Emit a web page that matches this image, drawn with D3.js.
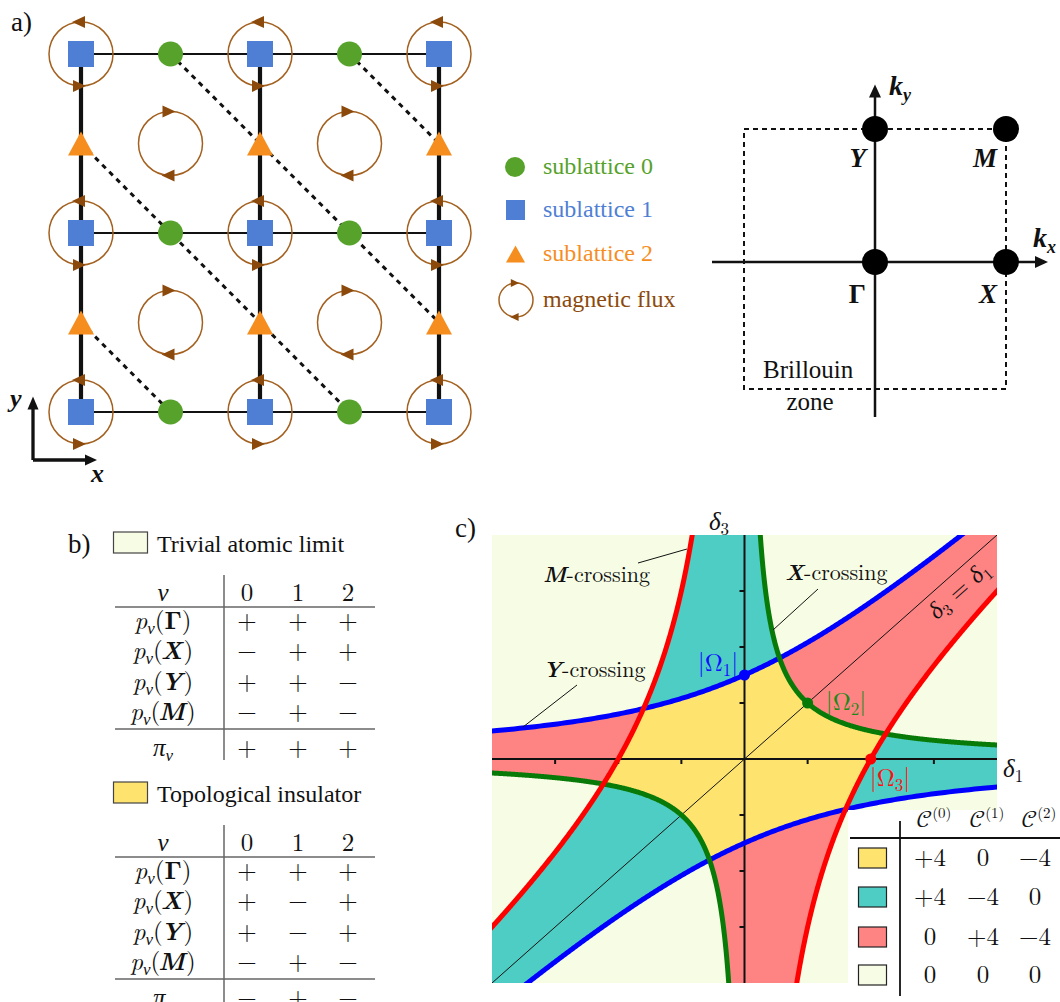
<!DOCTYPE html>
<html><head><meta charset="utf-8">
<script src="https://cdn.jsdelivr.net/npm/d3@7"></script>
<style>body{margin:0;background:#fff} svg{display:block}</style>
</head><body>
<svg id="fig" width="1060" height="1002"></svg>
<script>
// ================= DATA =================
// panel a: lattice sites (unit-cell coordinates, y up)
const squareSites   = [[0,0],[1,0],[2,0],[0,1],[1,1],[2,1],[0,2],[1,2],[2,2]];      // sublattice 1
const circleSites   = [[0.5,0],[1.5,0],[0.5,1],[1.5,1],[0.5,2],[1.5,2]];            // sublattice 0
const triangleSites = [[0,0.5],[1,0.5],[2,0.5],[0,1.5],[1,1.5],[2,1.5]];            // sublattice 2
const horizontalBonds = [[[0,0],[2,0]],[[0,1],[2,1]],[[0,2],[2,2]]];
const verticalBonds   = [[[0,0],[0,2]],[[1,0],[1,2]],[[2,0],[2,2]]];
const dashedBonds     = [[[0.5,2],[2,0.5]],[[1.5,2],[2,1.5]],[[0,1.5],[1.5,0]],[[0,0.5],[0.5,0]]];
const plaquetteFlux   = [[0.5,0.5],[1.5,0.5],[0.5,1.5],[1.5,1.5]];
const legendLabels    = ["sublattice 0","sublattice 1","sublattice 2","magnetic flux"];

// panel a: Brillouin zone
const bzPoints = [["Γ",0,0],["X",1,0],["Y",0,1],["M",1,1]];
const bzBox    = [[-1,-1],[1,1]];

// panel b: parity tables
const symPoints     = ["Γ","X","Y","M"];
const bandIndex     = ["0","1","2"];
const trivialParity = [["+","+","+"],["−","+","+"],["+","+","−"],["−","+","−"]];
const trivialPi     = ["+","+","+"];
const topoParity    = [["+","+","+"],["+","−","+"],["+","−","+"],["−","+","−"]];
const topoPi        = ["−","+","−"];

// panel c: phase diagram
const omegaAbs   = [1.5, 1, 2];             // |Ω1|, |Ω2|, |Ω3|
const deltaDomain = [-4, 4];
const deltaTicks  = [-3,-2,-1,1,2,3];
const chernHeaders = ["(0)","(1)","(2)"];
const chernValues  = [["+4","0","−4"],["+4","−4","0"],["0","+4","−4"],["0","0","0"]];
const phaseColors  = ["#fee46f","#4ecdc4","#fe8383","#f7fde5"];

// ================= STYLE =================
const cGreen="#56a22b", cBlue="#4f7fd4", cOrange="#f68e1f", cBrown="#a3601f", cBrownDark="#8b4a0c";
const FT = "'Liberation Serif'";     // Times-like
const FM = "'Latin Modern Roman'";   // Computer-Modern-like

const svg = d3.select("#fig");

function mathText(g, x, y, parts, opts={}) {
  const t = g.append("text").attr("x", x).attr("y", y)
    .style("font-family", opts.font || FM)
    .attr("font-size", opts.size || 22)
    .attr("text-anchor", opts.anchor || "start")
    .style("fill", opts.fill || "#111");
  parts.forEach(p => {
    const s = t.append("tspan").text(p.t);
    if (p.f) s.style("font-family", p.f);
    if (p.i) s.attr("font-style","italic");
    if (p.b) s.attr("font-weight","bold");
    if (p.s) s.attr("font-size", p.s);
    if (p.dy) s.attr("dy", p.dy);
    if (p.dx) s.attr("dx", p.dx);
  });
  return t;
}
function plainText(g, x, y, str, size, font, anchor, fill) {
  return g.append("text").attr("x",x).attr("y",y).style("font-family",font)
    .attr("font-size",size).attr("text-anchor",anchor||"start").style("fill",fill||"#111").text(str);
}

// ================= PANEL A =================
const A = svg.append("g");
const ax = d3.scaleLinear().domain([0,2]).range([81,439]);
const ay = d3.scaleLinear().domain([0,2]).range([412,54]);

plainText(A, 11, 31, "a)", 27, FT);

A.selectAll(".vb").data(verticalBonds).join("line")
  .attr("x1",d=>ax(d[0][0])).attr("y1",d=>ay(d[0][1])).attr("x2",d=>ax(d[1][0])).attr("y2",d=>ay(d[1][1]))
  .attr("stroke","#111").attr("stroke-width",4.2);
A.selectAll(".hb").data(horizontalBonds).join("line")
  .attr("x1",d=>ax(d[0][0])).attr("y1",d=>ay(d[0][1])).attr("x2",d=>ax(d[1][0])).attr("y2",d=>ay(d[1][1]))
  .attr("stroke","#111").attr("stroke-width",2);
A.selectAll(".db").data(dashedBonds).join("line")
  .attr("x1",d=>ax(d[0][0])).attr("y1",d=>ay(d[0][1])).attr("x2",d=>ax(d[1][0])).attr("y2",d=>ay(d[1][1]))
  .attr("stroke","#111").attr("stroke-width",3).attr("stroke-dasharray","5,5");

function arrowHead(g, x, y, dir, s=1) {
  const p = d3.path();
  p.moveTo(x + dir*7*s, y); p.lineTo(x - dir*6*s, y - 6*s); p.lineTo(x - dir*6*s, y + 6*s); p.closePath();
  g.append("path").attr("d", p.toString()).attr("fill", cBrownDark);
}
function fluxLoop(g, cx, cy, r, topDir, s=1) {
  g.append("circle").attr("cx",cx).attr("cy",cy).attr("r",r)
    .attr("fill","none").attr("stroke",cBrown).attr("stroke-width",1.5);
  arrowHead(g, cx-2*s, cy - r, topDir, s);
  arrowHead(g, cx-2*s, cy + r, -topDir, s);
}
squareSites.forEach(d => fluxLoop(A, ax(d[0]), ay(d[1]), 32, -1));
plaquetteFlux.forEach(d => fluxLoop(A, ax(d[0]), ay(d[1]), 32, 1));

A.selectAll(".sq").data(squareSites).join("rect")
  .attr("x",d=>ax(d[0])-13).attr("y",d=>ay(d[1])-13).attr("width",26).attr("height",26).attr("fill",cBlue);
A.selectAll(".ci").data(circleSites).join("circle")
  .attr("cx",d=>ax(d[0])).attr("cy",d=>ay(d[1])).attr("r",12.5).attr("fill",cGreen);
function triPath(cx, cy, w, h) {
  const p = d3.path(); p.moveTo(cx, cy-h/2); p.lineTo(cx+w/2, cy+h/2); p.lineTo(cx-w/2, cy+h/2); p.closePath(); return p.toString();
}
A.selectAll(".tr").data(triangleSites).join("path")
  .attr("d",d=>triPath(ax(d[0]), ay(d[1]), 26, 24)).attr("fill",cOrange);

// axes icon
A.append("path").attr("d","M33,460 L33,405 M33,460 L88,460").attr("stroke","#111").attr("stroke-width",3.3).attr("fill","none");
A.append("path").attr("d",triPath(33,403,11,13)).attr("fill","#111");
A.append("path").attr("d","M97,460 L85,454.5 L85,465.5 Z").attr("fill","#111");
mathText(A, 10, 407, [{t:"y",i:1,b:1}], {size:26, font:FT});
mathText(A, 91, 482, [{t:"x",i:1,b:1}], {size:26, font:FT});

// legend
const legY = [167, 210, 254, 300];
const legCol = [cGreen, cBlue, cOrange, cBrownDark];
A.append("circle").attr("cx",515).attr("cy",legY[0]).attr("r",10).attr("fill",cGreen);
A.append("rect").attr("x",506).attr("y",legY[1]-10).attr("width",19).attr("height",20).attr("fill",cBlue);
A.append("path").attr("d",triPath(515.5,legY[2],19,17)).attr("fill",cOrange);
fluxLoop(A, 516, legY[3], 17, 1, 0.65);
legendLabels.forEach((l,i) => plainText(A, 543, legY[i]+7, l, 24, FT, "start", legCol[i]));

// Brillouin zone
const bx = d3.scaleLinear().domain([0,1]).range([875,1006]);
const by = d3.scaleLinear().domain([-1,0,1]).range([389,262,129]);
A.append("rect").attr("x",bx(bzBox[0][0])).attr("y",by(bzBox[1][1]))
  .attr("width",bx(bzBox[1][0])-bx(bzBox[0][0])).attr("height",by(bzBox[0][1])-by(bzBox[1][1]))
  .attr("fill","none").attr("stroke","#111").attr("stroke-width",2).attr("stroke-dasharray","5,4");
A.append("line").attr("x1",712).attr("x2",1038).attr("y1",by(0)).attr("y2",by(0)).attr("stroke","#111").attr("stroke-width",2.5);
A.append("line").attr("x1",bx(0)).attr("x2",bx(0)).attr("y1",417).attr("y2",95).attr("stroke","#111").attr("stroke-width",2.5);
A.append("path").attr("d",`M1048,${by(0)} L1035,${by(0)-6} L1035,${by(0)+6} Z`).attr("fill","#111");
A.append("path").attr("d",triPath(bx(0),91,12,13)).attr("fill","#111");
A.selectAll(".bz").data(bzPoints).join("circle")
  .attr("cx",d=>bx(d[1])).attr("cy",d=>by(d[2])).attr("r",13).attr("fill","#000");
bzPoints.forEach(d => {
  const up = d[2] === 1;
  mathText(A, bx(d[1]) - 9, by(d[2]) + (up ? 38 : 41), [{t:d[0], i: d[0]!=="Γ", b:1}], {size:27, anchor:"end", font:FT});
});
mathText(A, 889, 95, [{t:"k",i:1,b:1},{t:"y",i:1,b:1,s:18,dy:6}], {size:28, font:FT});
mathText(A, 1033, 247, [{t:"k",i:1,b:1},{t:"x",i:1,b:1,s:18,dy:6}], {size:28, font:FT});
plainText(A, 763, 378, "Brillouin", 25, FT);
plainText(A, 810, 410, "zone", 25, FT, "middle");

// ================= PANEL B =================
const B = svg.append("g");
plainText(B, 68, 553, "b)", 27, FT);
const colX = [163, 247, 298, 348];
function parityTable(top, swColor, title, rows, pi) {
  B.append("rect").attr("x",113.5).attr("y",top).attr("width",34).attr("height",21)
    .attr("fill",swColor).attr("stroke","#444").attr("stroke-width",1.2);
  plainText(B, 157, top+20, title, 24, FT);
  const hY = top + 69;
  mathText(B, colX[0], hY, [{t:"ν",i:1}], {size:25, anchor:"middle"});
  bandIndex.forEach((b,i) => plainText(B, colX[i+1], hY, b, 25, FM, "middle"));
  B.append("line").attr("x1",115).attr("x2",375).attr("y1",top+75).attr("y2",top+75).attr("stroke","#666").attr("stroke-width",1.5);
  B.append("line").attr("x1",224).attr("x2",224).attr("y1",top+43).attr("y2",top+228).attr("stroke","#666").attr("stroke-width",1.5);
  symPoints.forEach((s,r) => {
    const yy = top + 97 + r*30.3;
    const ital = s !== "Γ";
    mathText(B, colX[0], yy, [{t:"p",i:1},{t:"ν",i:1,s:17,dy:5},{t:"(",dy:-5},{t:s,b:1,i:ital,dx:ital?-2:0},{t:")",dx:ital?1:0}], {size:25, anchor:"middle"});
    rows[r].forEach((v,i) => plainText(B, colX[i+1], yy, v, 25, FM, "middle"));
  });
  B.append("line").attr("x1",115).attr("x2",375).attr("y1",top+197).attr("y2",top+197).attr("stroke","#666").attr("stroke-width",1.5);
  const pY = top + 224;
  mathText(B, colX[0], pY, [{t:"π",i:1},{t:"ν",i:1,s:17,dy:5}], {size:25, anchor:"middle"});
  pi.forEach((v,i) => plainText(B, colX[i+1], pY, v, 25, FM, "middle"));
}
parityTable(532, phaseColors[3], "Trivial atomic limit", trivialParity, trivialPi);
parityTable(782, phaseColors[0], "Topological insulator", topoParity, topoPi);

// ================= PANEL C =================
const C = svg.append("g");
plainText(C, 455, 537, "c)", 27, FT);
const px0 = 492, px1 = 997, py0 = 535, py1 = 983;
const xS = d3.scaleLinear().domain(deltaDomain).range([px0, px1]);
const yS = d3.scaleLinear().domain(deltaDomain).range([py1, py0]);
const [O1, O2, O3] = omegaAbs;

function phaseOf(d1, d3) {
  const b = d3*d3 - d1*d3 > O1*O1;   // Y-crossing passed
  const g = d1*d3 > O2*O2;           // X-crossing passed
  const r = d1*d1 - d1*d3 > O3*O3;   // M-crossing passed
  const n = b + g + r;
  if (n === 0) return 0;
  if (n >= 2) return 3;
  if (b) return d3 > 0 ? 1 : 2;
  if (g) return d1 < 0 ? 1 : 2;
  return d1 > 0 ? 1 : 2;
}

const defs = svg.append("defs");
defs.append("clipPath").attr("id","plotClip").append("rect")
  .attr("x",px0).attr("y",py0).attr("width",px1-px0).attr("height",py1-py0);
const P = C.append("g").attr("clip-path","url(#plotClip)");
P.append("rect").attr("x",px0).attr("y",py0).attr("width",px1-px0).attr("height",py1-py0).attr("fill",phaseColors[3]);

const nx = 505, ny = 448;
const gx = d3.scaleLinear().domain([0,nx]).range(deltaDomain);
const gy = d3.scaleLinear().domain([0,ny]).range([deltaDomain[1], deltaDomain[0]]);
const phaseGrid = new Array(nx*ny);
for (let j=0;j<ny;j++) for (let i=0;i<nx;i++) phaseGrid[j*nx+i] = phaseOf(gx(i+0.5), gy(j+0.5));
const proj = d3.geoPath(d3.geoTransform({point(x,y){ this.stream.point(xS(gx(x)), yS(gy(y))); }}));
[0,1,2].forEach(k => {
  const ind = phaseGrid.map(v => v===k ? 1 : 0);
  const cont = d3.contours().size([nx,ny]).thresholds([0.5])(ind);
  P.append("path").attr("d", proj(cont[0])).attr("fill", phaseColors[k]).attr("stroke",phaseColors[k]).attr("stroke-width",0.8);
});

// diagonal δ3 = δ1
P.append("line").attr("x1",xS(-4)).attr("y1",yS(-4)).attr("x2",xS(4)).attr("y2",yS(4)).attr("stroke","#111").attr("stroke-width",1);

// axes
P.append("line").attr("x1",px0).attr("x2",px1).attr("y1",yS(0)).attr("y2",yS(0)).attr("stroke","#111").attr("stroke-width",2);
P.append("line").attr("x1",xS(0)).attr("x2",xS(0)).attr("y1",py0).attr("y2",py1).attr("stroke","#111").attr("stroke-width",2);
deltaTicks.forEach(t => {
  P.append("line").attr("x1",xS(t)).attr("x2",xS(t)).attr("y1",yS(0)).attr("y2",yS(0)+5).attr("stroke","#111").attr("stroke-width",2);
  P.append("line").attr("x1",xS(0)-5).attr("x2",xS(0)).attr("y1",yS(t)).attr("y2",yS(t)).attr("stroke","#111").attr("stroke-width",2);
});

// crossing curves
const line = d3.line().x(d=>xS(d[0])).y(d=>yS(d[1]));
const samp = (a,b,n) => d3.range(n+1).map(i => a + (b-a)*i/n);
const blueUp  = samp(0.35, 4.3, 400).map(y => [y - O1*O1/y, y]);
const blueDn  = samp(-4.3, -0.35, 400).map(y => [y - O1*O1/y, y]);
const greenUp = samp(0.2, 4.3, 400).map(x => [x, O2*O2/x]);
const greenDn = samp(-4.3, -0.2, 400).map(x => [x, O2*O2/x]);
const redL    = samp(-4.3, -0.6, 400).map(x => [x, x - O3*O3/x]);
const redR    = samp(0.6, 4.3, 400).map(x => [x, x - O3*O3/x]);
[[blueUp,"#0000ff"],[blueDn,"#0000ff"],[greenUp,"#087a08"],[greenDn,"#087a08"],[redL,"#ff0000"],[redR,"#ff0000"]]
  .forEach(([pts,col]) => P.append("path").attr("d",line(pts)).attr("fill","none").attr("stroke",col).attr("stroke-width",5));

// marked points
P.append("circle").attr("cx",xS(0)).attr("cy",yS(O1)).attr("r",5.5).attr("fill","#0000ff");
P.append("circle").attr("cx",xS(O2)).attr("cy",yS(O2)).attr("r",5.5).attr("fill","#087a08");
P.append("circle").attr("cx",xS(O3)).attr("cy",yS(0)).attr("r",5.5).attr("fill","#ff0000");

// labels
mathText(C, 718, 671, [{t:"|Ω"},{t:"1",s:17,dy:5},{t:"|",dy:-5}], {size:25, anchor:"middle", fill:"#1010ff"});
mathText(C, 846, 710, [{t:"|Ω"},{t:"2",s:17,dy:5},{t:"|",dy:-5}], {size:25, anchor:"middle", fill:"#198a19"});
mathText(C, 890, 786, [{t:"|Ω"},{t:"3",s:17,dy:5},{t:"|",dy:-5}], {size:25, anchor:"middle", fill:"#ff1010"});

mathText(C, 719, 530, [{t:"δ",i:1},{t:"3",s:17,dy:5}], {size:25, anchor:"middle"});
mathText(C, 1003, 777, [{t:"δ",i:1},{t:"1",s:17,dy:5}], {size:25});
const ang = Math.atan2(yS(0)-yS(4), xS(4)-xS(0)) * 180/Math.PI;
mathText(C, 0, 0, [{t:"δ",i:1},{t:"3",s:16,dy:5},{t:" = ",dy:-5},{t:"δ",i:1},{t:"1",s:16,dy:5}], {size:24, anchor:"middle"})
  .attr("transform", `translate(964,596) rotate(${-ang})`);

mathText(C, 543, 582, [{t:"M",i:1,b:1},{t:"-crossing"}], {size:22});
mathText(C, 543, 677, [{t:"Y",i:1,b:1},{t:"-crossing"}], {size:22});
mathText(C, 785, 580, [{t:"X",i:1,b:1},{t:"-crossing"}], {size:22});
[[638,563,687,549],[577,685,523,727],[818,589,773,630]].forEach(l =>
  C.append("line").attr("x1",l[0]).attr("y1",l[1]).attr("x2",l[2]).attr("y2",l[3]).attr("stroke","#111").attr("stroke-width",1));

// Chern table
C.append("rect").attr("x",848).attr("y",810).attr("width",212).attr("height",192).attr("fill","#fff");
C.append("line").attr("x1",900).attr("x2",900).attr("y1",821).attr("y2",996).attr("stroke","#111").attr("stroke-width",1.8);
C.append("line").attr("x1",850).attr("x2",1060).attr("y1",838).attr("y2",838).attr("stroke","#111").attr("stroke-width",1.8);
const chX = [930, 983, 1035];
chernHeaders.forEach((h,i) => mathText(C, chX[i]+4, 827, [{t:"𝒞",f:"'Latin Modern Math'"},{t:h,s:15,dy:-9}], {size:24, anchor:"middle"}));
const rowY = [858, 897, 937, 975];
chernValues.forEach((row,r) => {
  C.append("rect").attr("x",858.5).attr("y",rowY[r]-10).attr("width",28).attr("height",20)
    .attr("fill",phaseColors[r]).attr("stroke","#222").attr("stroke-width",1.2);
  row.forEach((v,i) => plainText(C, chX[i], rowY[r]+8, v, 25, FM, "middle"));
});
</script>
</body></html>
